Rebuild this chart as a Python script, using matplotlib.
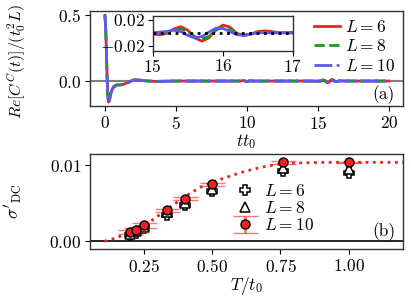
import matplotlib
matplotlib.use("Agg")
import matplotlib.pyplot as plt
import numpy as np

plt.rcParams['font.family'] = 'serif'
plt.rcParams['font.serif'] = ['cmr10']
plt.rcParams['mathtext.fontset'] = 'cm'
plt.rcParams['axes.formatter.use_mathtext'] = True
plt.rcParams['axes.unicode_minus'] = True

FS = 12.5

# ---------------- Panel (a) data ----------------
t_early = [0.0, 0.05, 0.1, 0.15, 0.2, 0.25, 0.3, 0.4, 0.5, 0.6, 0.8, 1.0, 1.3,
           1.6, 2.0, 2.4, 2.8, 3.5, 5.0, 7.0, 9.5, 9.8, 10.0, 10.2, 10.5, 12.0, 14.0]
c_early_L6 = [0.5, 0.42, 0.25, 0.05, -0.1, -0.16, -0.155, -0.1, -0.065, -0.045, -0.03,
              -0.03, -0.025, -0.012, 0.008, 0.008, 0.002, -0.003, 0.0, 0.0, 0.0, 0.004,
              -0.006, 0.002, 0.0, 0.0, 0.0]
c_early_L8 = [0.5, 0.42, 0.25, 0.05, -0.1, -0.16, -0.155, -0.1, -0.065, -0.045, -0.03,
              -0.03, -0.025, -0.012, 0.008, 0.008, 0.002, -0.003, 0.0, 0.0, 0.0, 0.003,
              -0.005, 0.002, 0.0, 0.0, 0.0]
c_early_L10 = [0.5, 0.42, 0.25, 0.05, -0.1, -0.16, -0.155, -0.1, -0.07, -0.05, -0.035,
               -0.035, -0.028, -0.014, 0.007, 0.008, 0.002, -0.003, 0.0, 0.0, 0.0, 0.003,
               -0.005, 0.002, 0.0, 0.0, 0.0]

t_late = [15.0, 15.1, 15.2, 15.3, 15.4, 15.5, 15.6, 15.7, 15.8, 15.9, 16.0, 16.1,
          16.2, 16.3, 16.4, 16.5, 16.6, 16.7, 16.8, 16.9, 17.0, 18.0, 20.0]
c_late_L6 = [-0.002, -0.003, -0.001, 0.006, 0.0095, 0.004, -0.008, -0.013, -0.008,
             0.005, 0.012, 0.009, -0.001, -0.004, -0.002, 0.002, 0.003, 0.002, 0.0,
             0.0, 0.0, 0.0, 0.0]
c_late_L8 = [0.0, 0.0, 0.001, 0.004, 0.006, 0.002, -0.006, -0.0095, -0.006, 0.004,
             0.009, 0.006, -0.001, -0.004, -0.002, 0.001, 0.001, 0.0, 0.0, 0.0, 0.0,
             0.0, 0.0]
c_late_L10 = [0.0, 0.001, 0.002, 0.004, 0.002, -0.004, -0.008, -0.006, 0.001, 0.007,
              0.007, 0.002, -0.003, -0.004, -0.002, 0.0, 0.0, 0.0, 0.0, 0.0, 0.0,
              0.0, 0.0]

# ---------------- Panel (b) data ----------------
T_vals = [0.2, 0.222, 0.25, 0.333, 0.4, 0.5, 0.76, 1.0]
sig_L6 = [0.0008, 0.0011, 0.0017, 0.0035, 0.0048, 0.0066, 0.0092, 0.0090]
sig_L8 = [0.0010, 0.0013, 0.0019, 0.0038, 0.0051, 0.0069, 0.0097, 0.0095]
sig_L10 = [0.0012, 0.0015, 0.0021, 0.0041, 0.0056, 0.0075, 0.0104, 0.0104]
err_L10 = [0.0003, 0.0003, 0.0003, 0.0002, 0.0002, 0.0002, 0.0002, 0.0001]
T_fit = [0.105, 0.144, 0.2, 0.25, 0.3, 0.35, 0.4, 0.455, 0.5, 0.55, 0.6, 0.65, 0.7,
         0.75, 0.8, 0.9, 1.0, 1.1, 1.2]
sig_fit = [0.0, 0.0004, 0.0012, 0.0020, 0.0033, 0.0046, 0.0059, 0.0071, 0.0078, 0.0084,
           0.0090, 0.0095, 0.0099, 0.0102, 0.0103, 0.0104, 0.0104, 0.0104, 0.0104]

RED = '#ee2020'
GREEN = '#1a9a1a'
BLUE = '#5a5af5'

fig = plt.figure(figsize=(4.11, 3.03), dpi=100)
W, H = 411.0, 303.0

def ax_rect(x0, y0, x1, y1):
    return [x0 / W, 1 - y1 / H, (x1 - x0) / W, (y1 - y0) / H]

axa = fig.add_axes(ax_rect(90, 11, 403, 106))
axb = fig.add_axes(ax_rect(90, 154, 403, 249))

t_all = t_early + t_late
c6 = c_early_L6 + c_late_L6
c8 = c_early_L8 + c_late_L8
c10 = c_early_L10 + c_late_L10

axa.axhline(0, color='gray', lw=1.5, zorder=1)
axa.plot(t_all, c6, color=RED, lw=2, ls='-', label=r'$L=6$')
axa.plot(t_all, c8, color=GREEN, lw=2, ls='--', label=r'$L=8$')
axa.plot(t_all, c10, color=BLUE, lw=2, ls='-.', label=r'$L=10$')
axa.set_xlim(-1.05, 21)
axa.set_ylim(-0.19, 0.533)
axa.set_xticks([0, 5, 10, 15, 20])
axa.set_yticks([0.0, 0.5])
axa.set_yticklabels([r'$0.0$', r'$0.5$'])
axa.set_xticklabels([r'$0$', r'$5$', r'$10$', r'$15$', r'$20$'])
axa.set_xlabel(r'$tt_0$', fontsize=FS, labelpad=0)
axa.set_ylabel(r'$Re[C^C(t)]/(t_0^2L)$', fontsize=11.5)
axa.yaxis.set_label_coords(-0.198, 0.47)
axa.tick_params(labelsize=FS, pad=3)
axa.text(0.975, 0.025, '(a)', transform=axa.transAxes, ha='right', va='bottom', fontsize=FS)
axa.legend(loc='upper right', frameon=False, fontsize=FS, handlelength=1.5,
           handletextpad=0.3, labelspacing=0.2, borderaxespad=0.05,
           bbox_to_anchor=(1.0, 1.0))

# inset
axi = fig.add_axes(ax_rect(152.7, 15.7, 293, 50.7))
axi.axhline(0, color='black', lw=2, ls=':', zorder=5)
axi.plot(t_all, c6, color=RED, lw=2, ls='-')
axi.plot(t_all, c8, color=GREEN, lw=2, ls='--')
axi.plot(t_all, c10, color=BLUE, lw=2, ls='-')
axi.set_xlim(15, 17)
axi.set_ylim(-0.028, 0.0267)
axi.set_xticks([15, 16, 17])
axi.set_xticklabels([r'$15$', r'$16$', r'$17$'])
axi.set_yticks([-0.02, 0.02])
axi.set_yticklabels([r'$-0.02$', r'$0.02$'])
axi.tick_params(labelsize=FS, pad=2)

# panel (b)
axb.axhline(0, color='black', lw=1.2, zorder=1)
axb.plot(T_fit, sig_fit, color=RED, lw=2, ls=':', zorder=2)
axb.plot(T_vals, sig_L6, ls='none', marker='P', ms=7, mfc='white', mec='black',
         mew=1.1, label=r'$L=6$', zorder=3)
axb.plot(T_vals, sig_L8, ls='none', marker='^', ms=6.5, mfc='white', mec='black',
         mew=1.1, label=r'$L=8$', zorder=3)
eb = axb.errorbar(T_vals, sig_L10, yerr=err_L10, ls='none', marker='o', ms=6.5,
                  mfc=RED, mec='black', mew=1, ecolor=(0.93, 0.13, 0.13, 0.6),
                  elinewidth=2, capsize=9, capthick=1.5, label=r'$L=10$', zorder=4)
axb.set_xlim(0.052, 1.199)
axb.set_ylim(-0.00102, 0.0115)
axb.set_xticks([0.25, 0.5, 0.75, 1.0])
axb.set_xticklabels([r'$0.25$', r'$0.50$', r'$0.75$', r'$1.00$'])
axb.set_yticks([0.0, 0.01])
axb.set_yticklabels([r'$0.00$', r'$0.01$'])
axb.tick_params(labelsize=FS, pad=3)
axb.set_xlabel(r'$T/t_0$', fontsize=FS, labelpad=0)
axb.set_ylabel(r"$\sigma'_{\rm DC}$", fontsize=FS)
axb.yaxis.set_label_coords(-0.21, 0.5)
axb.text(0.975, 0.08, '(b)', transform=axb.transAxes, ha='right', va='bottom', fontsize=FS)
axb.legend(loc='lower left', bbox_to_anchor=(0.40, 0.0), frameon=False, fontsize=FS,
           handlelength=1.6, handletextpad=0.3, labelspacing=0.08)

for ax in (axa, axb, axi):
    for s in ax.spines.values():
        s.set_color('#333333')
        s.set_linewidth(1.0)

fig.savefig('out.png', dpi=100)
